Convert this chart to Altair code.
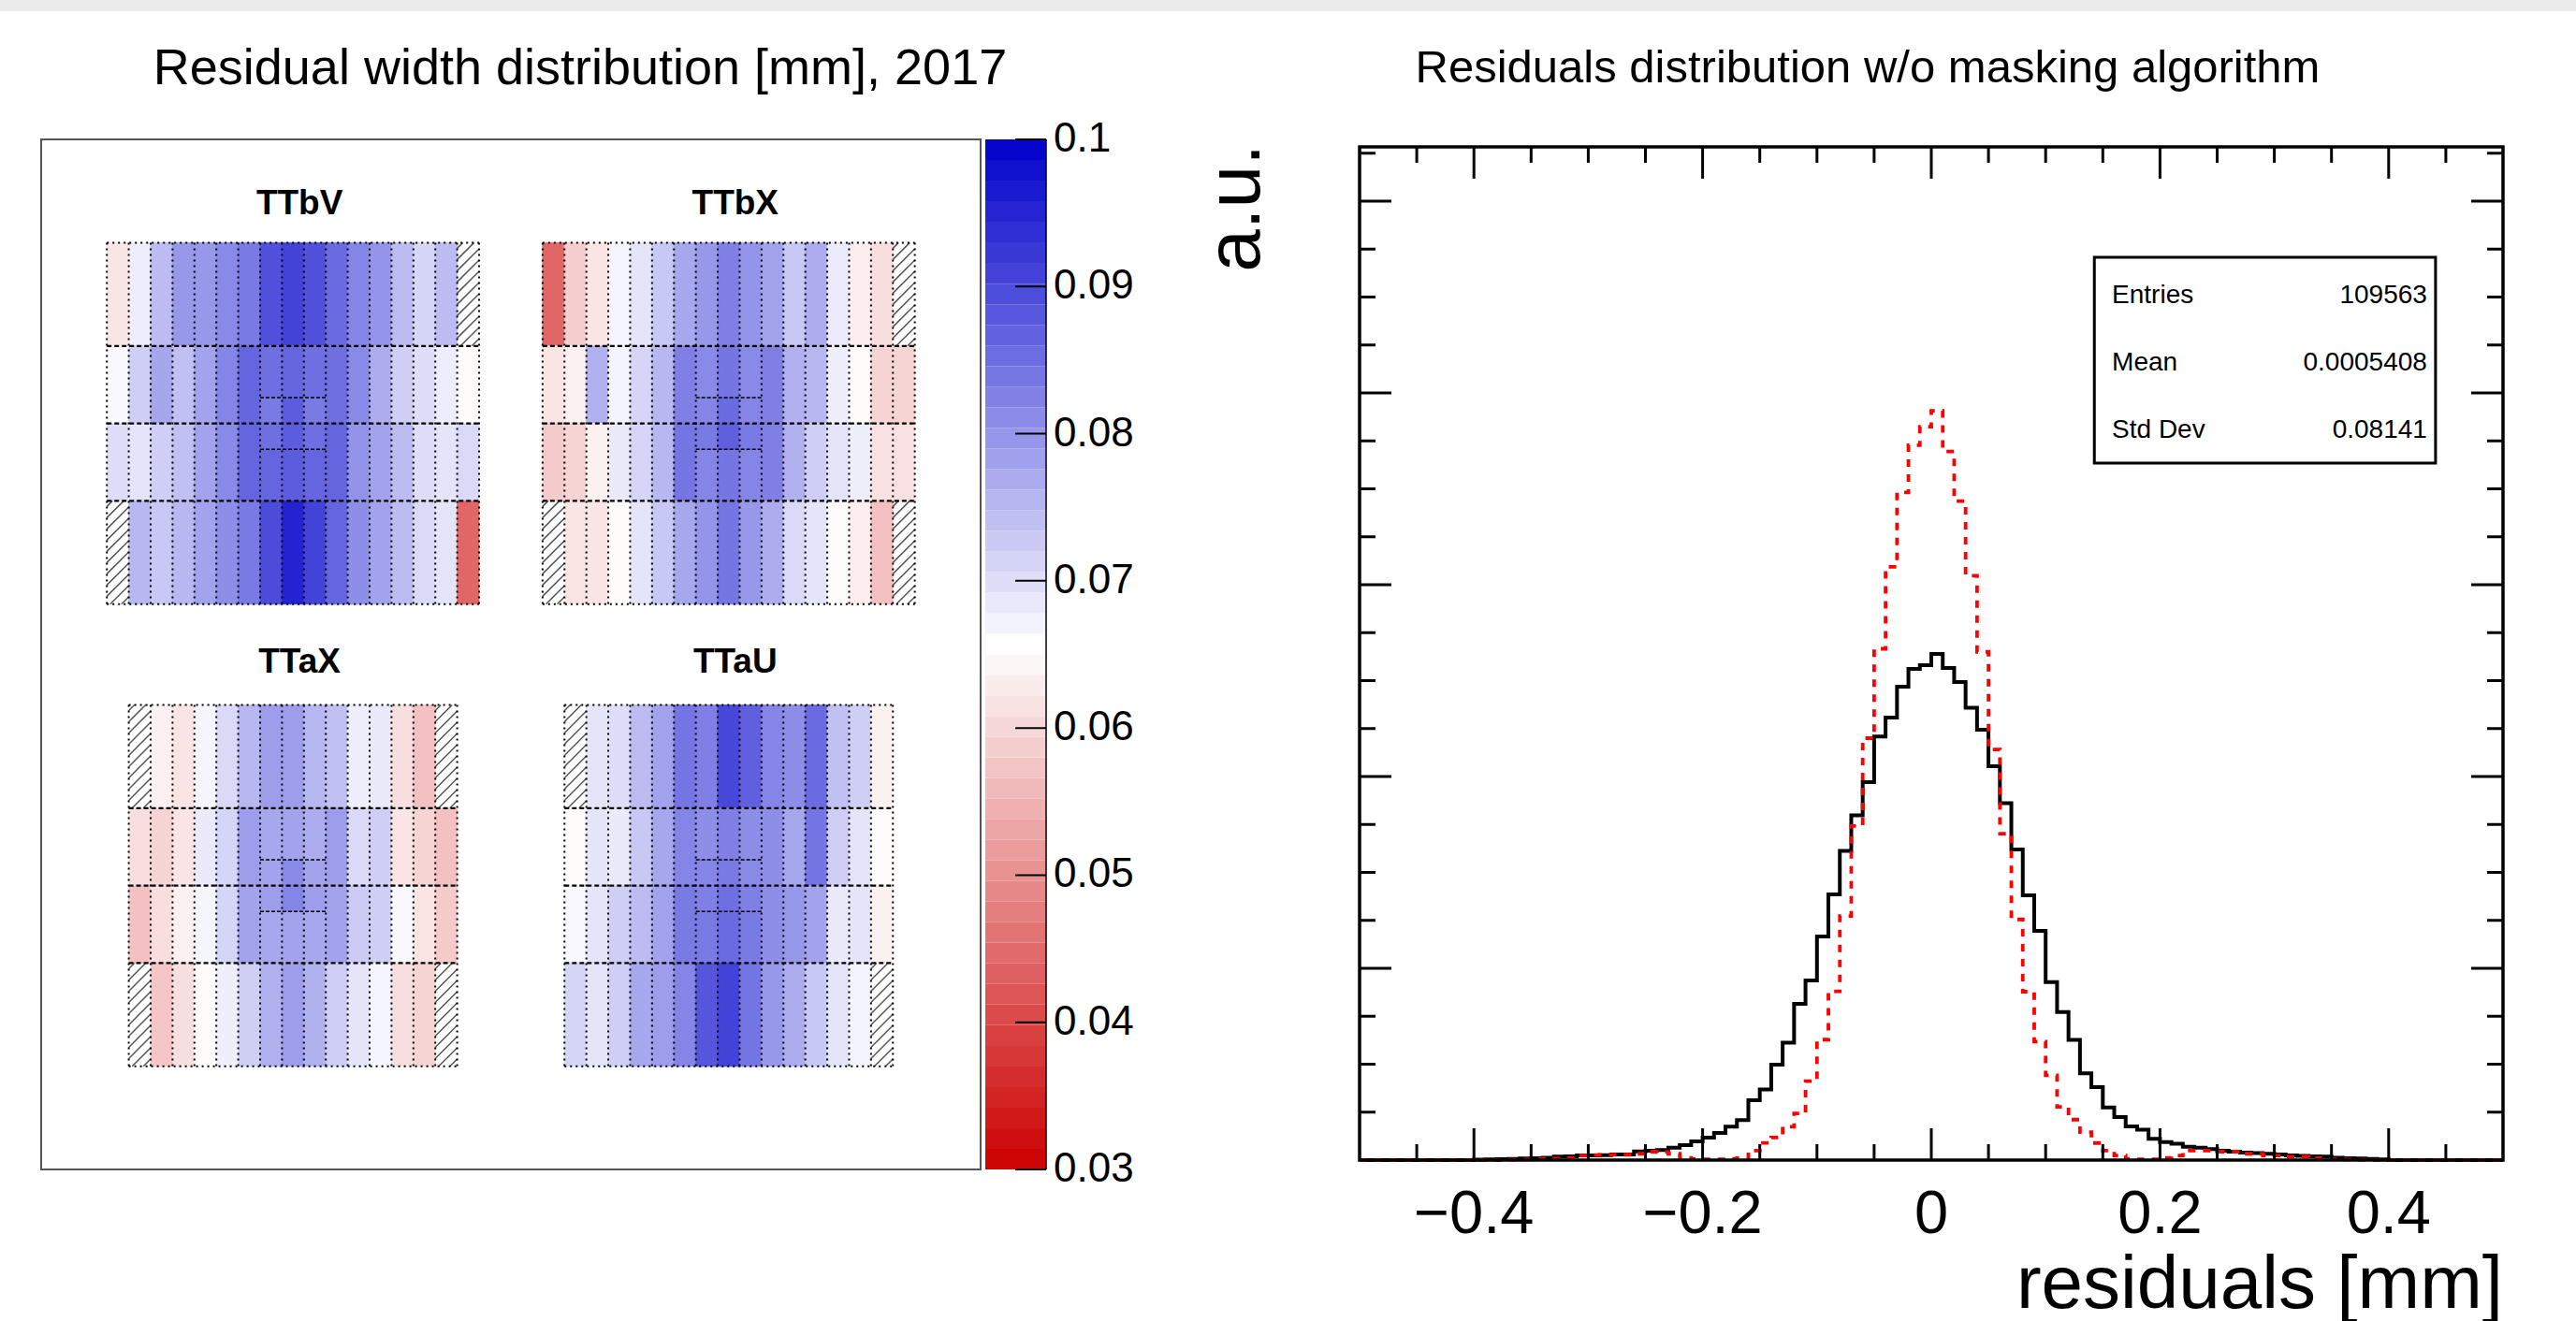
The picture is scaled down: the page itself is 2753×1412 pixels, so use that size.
import altair as alt
import pandas as pd

FONT = "Liberation Sans"

# ======================= DATA =======================
# ---- right panel: residual histograms (bin width 0.01 mm, first listed bin edge -0.40) ----
HIST_FIRST_EDGE = -0.40
HIST_BIN = 0.01
black_counts = [3, 4, 5, 6, 8, 10, 12, 18, 20, 24,
                24, 26, 29, 29, 45, 49, 53, 65, 78, 98,
                117, 141, 174, 209, 312, 368, 498, 612, 815, 937,
                1166, 1385, 1612, 1798, 1971, 2209, 2307, 2468, 2561, 2580,
                2639, 2566, 2493, 2359, 2244, 2054, 1861, 1619, 1380, 1195,
                928, 772, 627, 452, 380, 275, 224, 176, 158, 111,
                94, 85, 70, 65, 57, 49, 44, 39, 36, 33,
                29, 24, 22, 20, 18, 12, 10, 8, 6, 4]
red_counts = [0, 0, 0, 2, 3, 4, 6, 8, 12, 24,
              26, 27, 27, 28, 33, 44, 42, 33, 12, 5,
              4, 4, 6, 10, 49, 90, 118, 174, 243, 412,
              628, 880, 1273, 1742, 2200, 2666, 3093, 3481, 3727, 3824,
              3907, 3695, 3436, 3047, 2650, 2141, 1702, 1255, 878, 618,
              442, 277, 211, 146, 89, 49, 24, 6, 4, 4,
              12, 24, 49, 49, 49, 44, 44, 33, 33, 24,
              24, 18, 18, 10, 6, 4, 3, 2, 0, 0]
stats_labels = ["Entries", "Mean", "Std Dev"]
stats_values = ["109563", "0.0005408", "0.08141"]
x_major_ticks = [-0.4, -0.2, 0.0, 0.2, 0.4]
x_minor_ticks = [-0.45, -0.35, -0.3, -0.25, -0.15, -0.1, -0.05,
                 0.05, 0.1, 0.15, 0.25, 0.3, 0.35, 0.45]
y_major_ticks = [1000, 2000, 3000, 4000, 5000]
y_minor_ticks = [250, 500, 750, 1250, 1500, 1750, 2250, 2500, 2750,
                 3250, 3500, 3750, 4250, 4500, 4750, 5250]
LEFT_TITLE = "Residual width distribution [mm], 2017"
RIGHT_TITLE = "Residuals distribution w/o masking algorithm"
X_TITLE = "residuals [mm]"
Y_TITLE = "a.u."

# ---- left panel: residual width per sector [mm]; None = not available (hatched) ----
TTbV_rows = [
    [0.062, 0.068, 0.0745, 0.0795, 0.0795, 0.0815, 0.0835, 0.089, 0.091, 0.089, 0.0855, 0.082, 0.080, 0.0745, 0.071, 0.0745, None],
    [0.0665, 0.072, 0.0775, 0.074, 0.078, 0.082, 0.0863, 0.085, 0.0863, 0.085, 0.085, 0.0815, 0.0767, 0.072, 0.070, 0.068, 0.065],
    [0.070, 0.0692, 0.072, 0.074, 0.078, 0.0815, 0.0863, 0.0863, 0.0876, 0.0863, 0.0863, 0.0801, 0.078, 0.0745, 0.070, 0.069, 0.0705],
    [None, 0.0753, 0.073, 0.0753, 0.078, 0.0808, 0.0835, 0.0897, 0.0952, 0.091, 0.0863, 0.0808, 0.078, 0.0745, 0.0705, 0.069, 0.0444],
]
TTbV_small = [[0.0835, 0.0876, 0.0835], [0.085, 0.0876, 0.085]]
TTbX_rows = [
    [0.0444, 0.0588, 0.0618, 0.0668, 0.069, 0.073, 0.0774, 0.0794, 0.0828, 0.080, 0.078, 0.073, 0.0767, 0.0682, 0.0632, 0.0609, None],
    [0.0618, 0.0636, 0.076, 0.067, 0.0712, 0.0753, 0.0828, 0.0815, 0.0842, 0.0815, 0.0828, 0.076, 0.0753, 0.0677, 0.065, 0.0595, 0.0595],
    [0.0581, 0.0595, 0.0636, 0.0684, 0.0712, 0.0753, 0.0842, 0.082, 0.0842, 0.082, 0.0828, 0.076, 0.072, 0.069, 0.0677, 0.0613, 0.0613],
    [None, 0.0618, 0.0618, 0.065, 0.069, 0.073, 0.0774, 0.080, 0.0842, 0.0794, 0.0767, 0.0705, 0.069, 0.065, 0.0632, 0.0568, None],
]
TTbX_small = [[0.082, 0.0856, 0.082], [0.0835, 0.087, 0.0835]]
TTaX_rows = [
    [None, 0.0636, 0.0618, 0.0668, 0.0705, 0.0753, 0.0787, 0.0787, 0.0753, 0.074, 0.0677, 0.0684, 0.0609, 0.0568, None],
    [0.0609, 0.0595, 0.0618, 0.0684, 0.0712, 0.0787, 0.0774, 0.078, 0.0767, 0.0787, 0.0705, 0.072, 0.0618, 0.0595, 0.0568],
    [0.0568, 0.0609, 0.0636, 0.0668, 0.0712, 0.078, 0.0774, 0.078, 0.0774, 0.078, 0.0725, 0.072, 0.0665, 0.0618, 0.0581],
    [None, 0.0575, 0.0609, 0.065, 0.0677, 0.072, 0.076, 0.0787, 0.076, 0.072, 0.069, 0.0668, 0.0609, 0.0595, None],
]
TTaX_small = [[0.078, 0.0815, 0.078], [0.0787, 0.082, 0.0787]]
TTaU_rows = [
    [None, 0.069, 0.070, 0.0745, 0.078, 0.0842, 0.0828, 0.0904, 0.087, 0.082, 0.0808, 0.0856, 0.074, 0.072, 0.0636],
    [0.065, 0.069, 0.0684, 0.073, 0.0774, 0.082, 0.0808, 0.0828, 0.0808, 0.0808, 0.0774, 0.0842, 0.072, 0.069, 0.065],
    [0.0665, 0.069, 0.072, 0.0745, 0.078, 0.0835, 0.0835, 0.0856, 0.0835, 0.0808, 0.0794, 0.078, 0.0684, 0.069, 0.0636],
    [0.0712, 0.069, 0.072, 0.0774, 0.0787, 0.082, 0.0883, 0.091, 0.0842, 0.0794, 0.0767, 0.073, 0.069, 0.067, None],
]
TTaU_small = [[0.082, 0.0835, 0.0815], [0.0828, 0.085, 0.0828]]
station_names = ["TTbV", "TTbX", "TTaX", "TTaU"]
station_rows = {"TTbV": TTbV_rows, "TTbX": TTbX_rows, "TTaX": TTaX_rows, "TTaU": TTaU_rows}
station_small = {"TTbV": TTbV_small, "TTbX": TTbX_small, "TTaX": TTaX_small, "TTaU": TTaU_small}
colorbar_ticks = [0.03, 0.04, 0.05, 0.06, 0.07, 0.08, 0.09, 0.1]
Z_MIN, Z_MID, Z_MAX = 0.03, 0.0655, 0.1
N_CONTOURS = 50

# ======================= LAYOUT / STYLE =======================
PX_COL, PX_SENS = 23.4, 27.6
LEFT_W, LEFT_H = 1074, 1101
X_MAX_L = LEFT_W / PX_COL
Y_MAX_L = LEFT_H / PX_SENS
FRAME_R = 1004 / PX_COL
CB_X0, CB_X1 = 1009 / PX_COL, X_MAX_L
CB_TICK_LEN = 33 / PX_COL
CB_LABEL_X = CB_X1 + 8 / PX_COL
LAYOUT = {
    "TTbV": dict(x0=3.0, y0=4.0, cs=7, ty=2.5),
    "TTbX": dict(x0=22.9, y0=4.0, cs=7, ty=2.5),
    "TTaX": dict(x0=4.0, y0=21.9, cs=6, ty=20.25),
    "TTaU": dict(x0=23.9, y0=21.9, cs=6, ty=20.25),
}
ROW_SENS = [(0, 4), (4, 3), (7, 3), (10, 4)]
SPLIT = {1: ((4, 2), (6, 1)), 2: ((8, 2), (7, 1))}
HATCH_PX = 12.0

RIGHT_W, RIGHT_H = 1222, 1091
Y_VIEW_TOP = 5322.0
FRAME_TOP = 5283.0
PXY = RIGHT_H / Y_VIEW_TOP
MAJ_PX, MIN_PX = 34.0, 17.0

ONE = pd.DataFrame({"a": [0]})

# ======================= LEFT PANEL =======================
cells, hatched, lines = [], [], []
for name in station_names:
    lay = LAYOUT[name]
    rows = station_rows[name]
    ncol = len(rows[0])
    x0, y0, cs = lay["x0"], lay["y0"], lay["cs"]
    for r, vals in enumerate(rows):
        top, h = ROW_SENS[r]
        for c, v in enumerate(vals):
            if r in SPLIT and cs <= c < cs + 3:
                (bt, bh), (st, sh) = SPLIT[r]
                parts = [(bt, bh, v), (st, sh, station_small[name][r - 1][c - cs])]
            else:
                parts = [(top, h, v)]
            for t, hh, val in parts:
                rec = dict(x=x0 + c, x2=x0 + c + 1, y=y0 + t, y2=y0 + t + hh, value=val)
                (hatched if val is None else cells).append(rec)
    for k in range(ncol + 1):
        lines.append(dict(x=x0 + k, x2=x0 + k, y=y0, y2=y0 + 14, kind="dot"))
    for yy in (0, 14):
        lines.append(dict(x=x0, x2=x0 + ncol, y=y0 + yy, y2=y0 + yy, kind="dot"))
    for yy in (4, 7, 10):
        lines.append(dict(x=x0, x2=x0 + ncol, y=y0 + yy, y2=y0 + yy, kind="dash"))
    for yy in (6, 8):
        lines.append(dict(x=x0 + cs, x2=x0 + cs + 3, y=y0 + yy, y2=y0 + yy, kind="split"))

hatch = []
for cell in hatched:
    Xa, Xb = cell["x"] * PX_COL, cell["x2"] * PX_COL
    Ya, Yb = cell["y"] * PX_SENS, cell["y2"] * PX_SENS
    cval = Xa + Ya + HATCH_PX / 2
    while cval < Xb + Yb:
        X1, X2 = max(Xa, cval - Yb), min(Xb, cval - Ya)
        if X2 > X1:
            hatch.append(dict(x=X1 / PX_COL, x2=X2 / PX_COL,
                              y=(cval - X1) / PX_SENS, y2=(cval - X2) / PX_SENS))
        cval += HATCH_PX

cells_df = pd.DataFrame(cells)
hatch_df = pd.DataFrame(hatch)
lines_df = pd.DataFrame(lines)
titles_df = pd.DataFrame([dict(label=n, x=LAYOUT[n]["x0"] + len(station_rows[n][0]) / 2 + 0.3,
                               y=LAYOUT[n]["ty"]) for n in station_names])
frame_l_df = pd.DataFrame([dict(x=0, x2=FRAME_R, y=0, y2=Y_MAX_L)])

XS = alt.Scale(domain=[0, X_MAX_L], nice=False, zero=False)
YS = alt.Scale(domain=[0, Y_MAX_L], nice=False, zero=False, reverse=True)
CS = alt.Scale(domain=[Z_MIN, Z_MID, Z_MAX], range=["#cc0000", "#ffffff", "#0000cc"], interpolate="rgb")
CBS = alt.Scale(domain=[Z_MIN, Z_MAX], nice=False, zero=False)


def xy(ch):
    return ch.encode(
        x=alt.X("x:Q", scale=XS, axis=None), x2="x2:Q",
        y=alt.Y("y:Q", scale=YS, axis=None), y2="y2:Q")


band = alt.Chart(ONE).mark_rect(color="#ebebeb").encode(
    x=alt.value(-44), x2=alt.value(2753 - 44), y=alt.value(-149), y2=alt.value(-137))
left_title = alt.Chart(ONE).mark_text(
    font=FONT, fontSize=54, color="black", align="center", baseline="alphabetic",
    text=LEFT_TITLE).encode(x=alt.value(576), y=alt.value(-59))
frame_l = xy(alt.Chart(frame_l_df).mark_rect(filled=False, color="#555555", strokeWidth=2))
cell_layer = xy(alt.Chart(cells_df).mark_rect(strokeWidth=0.8)).encode(
    color=alt.Color("value:Q", scale=CS, legend=None),
    stroke=alt.Stroke("value:Q", scale=CS, legend=None))
hatch_layer = xy(alt.Chart(hatch_df).mark_rule(color="#555555", strokeWidth=1.5))
dot_layer = xy(alt.Chart(lines_df[lines_df.kind == "dot"]).mark_rule(
    color="black", strokeWidth=2, strokeDash=[2, 4]))
dash_layer = xy(alt.Chart(lines_df[lines_df.kind == "dash"]).mark_rule(
    color="black", strokeWidth=2.2, strokeDash=[5, 3]))
split_layer = xy(alt.Chart(lines_df[lines_df.kind == "split"]).mark_rule(
    color="black", strokeWidth=1.6, strokeDash=[4, 2]))
title_layer = alt.Chart(titles_df).mark_text(
    font=FONT, fontSize=37, fontWeight="bold", color="black", baseline="middle", align="center"
).encode(x=alt.X("x:Q", scale=XS, axis=None), y=alt.Y("y:Q", scale=YS, axis=None), text="label:N")

heat = alt.layer(band, left_title, cell_layer, hatch_layer, dot_layer, dash_layer, split_layer,
                 title_layer, frame_l)

step = (Z_MAX - Z_MIN) / N_CONTOURS
bands_df = pd.DataFrame([dict(x=CB_X0, x2=CB_X1, lo=Z_MIN + i * step, hi=Z_MIN + (i + 1) * step,
                              mid=Z_MIN + (i + 0.5) * step) for i in range(N_CONTOURS)])
cb_ticks_df = pd.DataFrame([dict(x=CB_X1 - CB_TICK_LEN, x2=CB_X1, v=v, xl=CB_LABEL_X,
                                 label=f"{v:g}") for v in colorbar_ticks])
cb_bands = alt.Chart(bands_df).mark_rect().encode(
    x=alt.X("x:Q", scale=XS, axis=None), x2="x2:Q",
    y=alt.Y("lo:Q", scale=CBS, axis=None), y2="hi:Q",
    color=alt.Color("mid:Q", scale=CS, legend=None))
cb_ticks = alt.Chart(cb_ticks_df).mark_rule(color="black", strokeWidth=2).encode(
    x=alt.X("x:Q", scale=XS, axis=None), x2="x2:Q",
    y=alt.Y("v:Q", scale=CBS, axis=None))
cb_domain = alt.Chart(pd.DataFrame([dict(x=CB_X1, lo=Z_MIN, hi=Z_MAX)])).mark_rule(
    color="black", strokeWidth=1.5).encode(
    x=alt.X("x:Q", scale=XS, axis=None),
    y=alt.Y("lo:Q", scale=CBS, axis=None), y2="hi:Q")
cb_labels = alt.Chart(cb_ticks_df).mark_text(
    font=FONT, fontSize=44, color="black", align="left", baseline="middle").encode(
    x=alt.X("xl:Q", scale=XS, axis=None), y=alt.Y("v:Q", scale=CBS, axis=None), text="label:N")
cbar = alt.layer(cb_bands, cb_ticks, cb_domain, cb_labels)

left = alt.layer(heat, cbar).resolve_scale(y="independent").properties(width=LEFT_W, height=LEFT_H)

# ======================= RIGHT PANEL =======================
def hist_steps(counts):
    n_bins = round(1.0 / HIST_BIN)
    first = round((HIST_FIRST_EDGE + 0.5) / HIST_BIN)
    vals = [0.0] * n_bins
    for i, c in enumerate(counts):
        vals[first + i] = c
    xs = [-0.5 + i * HIST_BIN for i in range(n_bins)] + [0.5]
    return pd.DataFrame({"x": xs, "y": vals + [vals[-1]]})


HX = alt.Scale(domain=[-0.5, 0.5], nice=False, zero=False)
HY = alt.Scale(domain=[0, Y_VIEW_TOP], nice=False, zero=False)
lx_maj, lx_min = MAJ_PX / RIGHT_W, MIN_PX / RIGHT_W
ly_maj, ly_min = MAJ_PX / PXY, MIN_PX / PXY
ticks = []
for vals, ln in ((x_major_ticks, ly_maj), (x_minor_ticks, ly_min)):
    for v in vals:
        ticks.append(dict(x=v, x2=v, y=0, y2=ln))
        ticks.append(dict(x=v, x2=v, y=FRAME_TOP - ln, y2=FRAME_TOP))
for vals, ln in ((y_major_ticks, lx_maj), (y_minor_ticks, lx_min)):
    for v in vals:
        ticks.append(dict(x=-0.5, x2=-0.5 + ln, y=v, y2=v))
        ticks.append(dict(x=0.5 - ln, x2=0.5, y=v, y2=v))
ticks_df = pd.DataFrame(ticks)
xlab_df = pd.DataFrame({"v": x_major_ticks,
                        "label": [f"{v:g}".replace("-", "\u2212") for v in x_major_ticks]})


def hxy(ch):
    return ch.encode(x=alt.X("x:Q", scale=HX, axis=None), x2="x2:Q",
                     y=alt.Y("y:Q", scale=HY, axis=None), y2="y2:Q")


frame_r = hxy(alt.Chart(pd.DataFrame([dict(x=-0.5, x2=0.5, y=0, y2=FRAME_TOP)])).mark_rect(
    filled=False, color="black", strokeWidth=3.5))
tick_layer = hxy(alt.Chart(ticks_df).mark_rule(color="black", strokeWidth=3))
black_line = alt.Chart(hist_steps(black_counts)).mark_line(
    interpolate="step-after", color="black", strokeWidth=4).encode(
    x=alt.X("x:Q", scale=HX, axis=None), y=alt.Y("y:Q", scale=HY, axis=None))
red_line = alt.Chart(hist_steps(red_counts)).mark_line(
    interpolate="step-after", color="#ff0000", strokeWidth=3.8, strokeDash=[8, 8]).encode(
    x=alt.X("x:Q", scale=HX, axis=None), y=alt.Y("y:Q", scale=HY, axis=None))
x_labels = alt.Chart(xlab_df).mark_text(
    font=FONT, fontSize=65, color="black", align="center", baseline="alphabetic").encode(
    x=alt.X("v:Q", scale=HX, axis=None), y=alt.value(RIGHT_H + 78), text="label:N")
x_title = alt.Chart(ONE).mark_text(
    font=FONT, fontSize=80, color="black", align="right", baseline="alphabetic",
    text=X_TITLE).encode(x=alt.value(RIGHT_W), y=alt.value(RIGHT_H + 158))

BOX = dict(x=0.1426, x2=0.441, y=3634, y2=4707)
stat_rows_y = [4507, 4156, 3805]
box_layer = hxy(alt.Chart(pd.DataFrame([BOX])).mark_rect(
    fill="white", stroke="black", strokeWidth=3))
stats_df = pd.DataFrame({"label": stats_labels, "value": stats_values,
                         "xl": 0.158, "xr": 0.4336, "y": stat_rows_y})
stat_lab = alt.Chart(stats_df).mark_text(font=FONT, fontSize=28, align="left",
                                         baseline="middle", color="black").encode(
    x=alt.X("xl:Q", scale=HX, axis=None), y=alt.Y("y:Q", scale=HY, axis=None), text="label:N")
stat_val = alt.Chart(stats_df).mark_text(font=FONT, fontSize=28, align="right",
                                         baseline="middle", color="black").encode(
    x=alt.X("xr:Q", scale=HX, axis=None), y=alt.Y("y:Q", scale=HY, axis=None), text="value:N")
right_title = alt.Chart(ONE).mark_text(
    font=FONT, fontSize=49, color="black", align="center", baseline="alphabetic",
    text=RIGHT_TITLE).encode(x=alt.value(543), y=alt.value(-61))
y_title = alt.Chart(ONE).mark_text(
    font=FONT, fontSize=82, color="black", align="right", baseline="alphabetic", angle=270,
    text=Y_TITLE).encode(x=alt.value(-107), y=alt.value(5))

right = alt.layer(black_line, red_line, tick_layer, frame_r, box_layer, stat_lab, stat_val,
                  x_labels, x_title, right_title, y_title).properties(width=RIGHT_W, height=RIGHT_H)

chart = alt.hconcat(left, right, spacing=335, bounds="flush", padding=0).configure(
    font=FONT, background="white", view=alt.ViewConfig(strokeWidth=0))

chart.save("out.html", embed_options={"renderer": "svg", "actions": False})
